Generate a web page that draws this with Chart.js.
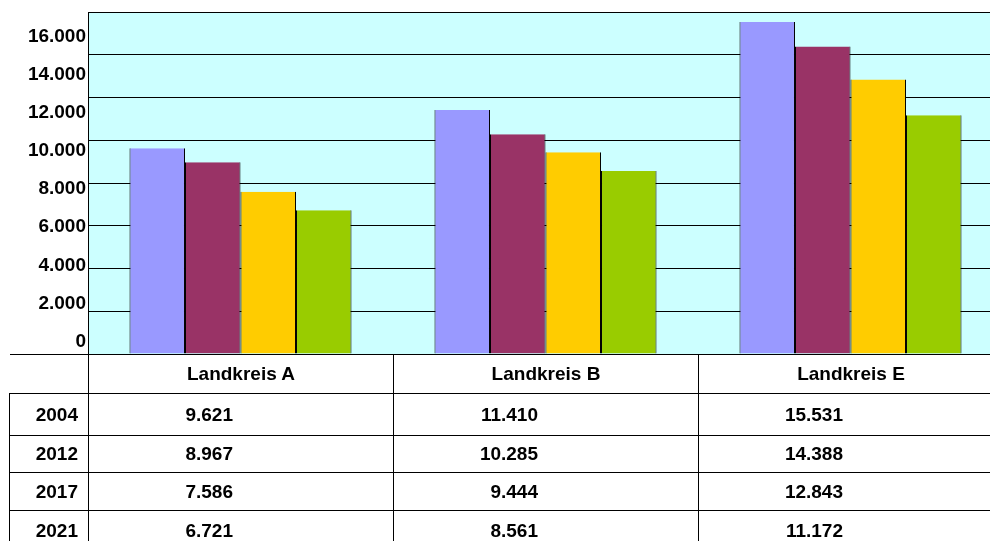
<!DOCTYPE html>
<html>
  <head>
    <meta charset="utf-8" />
    <script src="https://cdn.jsdelivr.net/npm/chart.js"></script>
    <title>Landkreise</title>
    <style>
      body {
        margin: 0;
        background: #fff;
        overflow: hidden;
        width: 990px;
        height: 541px;
        position: relative;
      }
      #wrap {
        position: absolute;
        left: 0;
        top: 0;
        width: 1003px;
        height: 355px;
      }
      #tabla {
        position: absolute;
        left: 9px;
        top: 354px;
        width: 994px;
        border-collapse: collapse;
        table-layout: fixed;
        font: bold 19px "Liberation Sans", Arial, sans-serif;
        color: #000;
      }
      #tabla td {
        border: 1px solid #000;
        padding: 0;
        white-space: nowrap;
      }
      #tabla thead td {
        text-align: center;
        height: 38px;
      }
      #tabla thead td.ecke {
        border-left: none;
      }
      #tabla tbody td {
        text-align: right;
        padding-right: 160px;
      }
      #tabla tbody td.jahr {
        padding-right: 10px;
      }
    </style>
  </head>
  <body>
    <div id="wrap"><canvas id="grafico"></canvas></div>
    <table id="tabla">
      <colgroup>
        <col style="width: 79px" />
        <col style="width: 305px" />
        <col style="width: 305px" />
        <col style="width: 305px" />
      </colgroup>
      <thead><tr id="kopf"><td class="ecke"></td></tr></thead>
      <tbody id="filas"></tbody>
    </table>
    <script>
      // datos
      const landkreise = ["Landkreis A", "Landkreis B", "Landkreis E"];
      const jahre = ["2004", "2012", "2017", "2021"];
      const werte2004 = [9621, 11410, 15531];
      const werte2012 = [8967, 10285, 14388];
      const werte2017 = [7586, 9444, 12843];
      const werte2021 = [6721, 8561, 11172];
      const yTicks = [0, 2000, 4000, 6000, 8000, 10000, 12000, 14000, 16000];

      const farben = ["#9999FF", "#993366", "#FFCC00", "#99CC00"];
      const reihen = [werte2004, werte2012, werte2017, werte2021];
      const zeilenHoehe = [42, 37, 38, 40];

      function formatDe(v) {
        return String(v).replace(/\B(?=(\d{3})+(?!\d))/g, ".");
      }

      // tabla de datos
      const kopf = document.getElementById("kopf");
      landkreise.forEach((lk) => {
        const td = document.createElement("td");
        td.textContent = lk;
        kopf.appendChild(td);
      });
      const filas = document.getElementById("filas");
      jahre.forEach((j, i) => {
        const tr = document.createElement("tr");
        tr.style.height = zeilenHoehe[i] + "px";
        const tdJ = document.createElement("td");
        tdJ.className = "jahr";
        tdJ.textContent = j;
        tr.appendChild(tdJ);
        reihen[i].forEach((v) => {
          const td = document.createElement("td");
          td.textContent = formatDe(v);
          tr.appendChild(td);
        });
        filas.appendChild(tr);
      });

      // fondo del area del grafico
      const fondo = {
        id: "fondo",
        beforeDraw(chart) {
          const a = chart.chartArea;
          const c = chart.ctx;
          c.save();
          c.fillStyle = "#CCFFFF";
          c.fillRect(a.left, a.top, a.right - a.left, a.bottom - a.top);
          c.restore();
        },
      };

      new Chart(document.getElementById("grafico"), {
        type: "bar",
        data: {
          labels: landkreise,
          datasets: jahre.map((j, i) => ({
            label: j,
            data: reihen[i],
            backgroundColor: farben[i],
            borderColor: "#000",
            borderWidth: { top: 0, left: 1, right: 1, bottom: 0 },
            borderSkipped: "start",
            categoryPercentage: 0.728,
            barPercentage: 1.0,
          })),
        },
        options: {
          responsive: true,
          maintainAspectRatio: false,
          animation: false,
          layout: { padding: { top: 12, bottom: 1, left: 0, right: 0 } },
          plugins: {
            legend: { display: false },
            tooltip: { enabled: false },
          },
          scales: {
            x: {
              grid: { display: false },
              ticks: { display: false },
              border: { color: "#000", width: 1 },
              afterFit(s) {
                s.height = 0;
              },
            },
            y: {
              position: "left",
              weight: 0,
              min: 0,
              max: 16000,
              ticks: { display: false, stepSize: 2000 },
              grid: { color: "#000", lineWidth: 1, drawTicks: false },
              border: { color: "#000", width: 1 },
              afterFit(s) {
                s.width = 0;
                s.paddingTop = 0;
                s.paddingBottom = 0;
              },
            },
            yl: {
              position: "left",
              weight: 1,
              min: -656,
              max: 17296,
              grid: { display: false, drawTicks: false, tickLength: 0 },
              border: { display: false },
              ticks: {
                autoSkip: false,
                padding: 2,
                color: "#000",
                font: { family: "'Liberation Sans', Arial, sans-serif", size: 19, weight: "bold" },
                callback: (v) => formatDe(v),
              },
              afterBuildTicks(s) {
                s.ticks = yTicks.map((v) => ({ value: v }));
              },
              afterFit(s) {
                s.width = 88;
                s.paddingTop = 0;
                s.paddingBottom = 0;
              },
            },
          },
        },
        plugins: [fondo],
      });
    </script>
  </body>
</html>
